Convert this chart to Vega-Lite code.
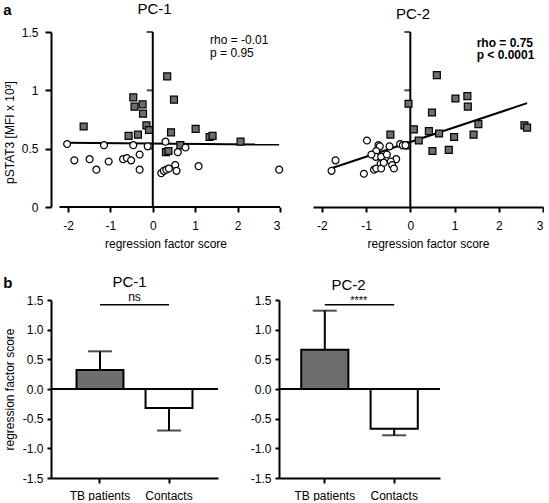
{
  "$schema": "https://vega.github.io/schema/vega-lite/v6.json",
  "padding": {"left": 3, "top": 2, "right": 0, "bottom": 0},
  "datasets": {
    "pc1": [
      {"x": -1.63, "y": 0.69, "group": "TB patients"},
      {"x": -0.46, "y": 0.94, "group": "TB patients"},
      {"x": -0.43, "y": 0.86, "group": "TB patients"},
      {"x": -0.24, "y": 0.88, "group": "TB patients"},
      {"x": -0.23, "y": 0.80, "group": "TB patients"},
      {"x": -0.15, "y": 0.70, "group": "TB patients"},
      {"x": -0.09, "y": 0.66, "group": "TB patients"},
      {"x": -0.57, "y": 0.61, "group": "TB patients"},
      {"x": -0.35, "y": 0.62, "group": "TB patients"},
      {"x": 0.34, "y": 1.12, "group": "TB patients"},
      {"x": 0.50, "y": 0.92, "group": "TB patients"},
      {"x": 0.43, "y": 0.64, "group": "TB patients"},
      {"x": 1.01, "y": 0.67, "group": "TB patients"},
      {"x": 1.34, "y": 0.60, "group": "TB patients"},
      {"x": 1.41, "y": 0.61, "group": "TB patients"},
      {"x": 2.07, "y": 0.56, "group": "TB patients"},
      {"x": 0.31, "y": 0.47, "group": "TB patients"},
      {"x": 0.37, "y": 0.48, "group": "TB patients"},
      {"x": 0.65, "y": 0.53, "group": "TB patients"},
      {"x": -2.02, "y": 0.54, "group": "Contacts"},
      {"x": -1.85, "y": 0.40, "group": "Contacts"},
      {"x": -1.49, "y": 0.41, "group": "Contacts"},
      {"x": -1.33, "y": 0.32, "group": "Contacts"},
      {"x": -1.15, "y": 0.53, "group": "Contacts"},
      {"x": -1.04, "y": 0.39, "group": "Contacts"},
      {"x": -0.70, "y": 0.41, "group": "Contacts"},
      {"x": -0.61, "y": 0.42, "group": "Contacts"},
      {"x": -0.51, "y": 0.40, "group": "Contacts"},
      {"x": -0.46, "y": 0.53, "group": "Contacts"},
      {"x": -0.31, "y": 0.45, "group": "Contacts"},
      {"x": -0.31, "y": 0.32, "group": "Contacts"},
      {"x": -0.12, "y": 0.52, "group": "Contacts"},
      {"x": 0.30, "y": 0.56, "group": "Contacts"},
      {"x": 0.20, "y": 0.29, "group": "Contacts"},
      {"x": 0.26, "y": 0.31, "group": "Contacts"},
      {"x": 0.32, "y": 0.32, "group": "Contacts"},
      {"x": 0.38, "y": 0.33, "group": "Contacts"},
      {"x": 0.53, "y": 0.36, "group": "Contacts"},
      {"x": 0.56, "y": 0.31, "group": "Contacts"},
      {"x": 0.59, "y": 0.47, "group": "Contacts"},
      {"x": 0.77, "y": 0.51, "group": "Contacts"},
      {"x": 1.08, "y": 0.35, "group": "Contacts"},
      {"x": 2.98, "y": 0.32, "group": "Contacts"}
    ],
    "pc2": [
      {"x": 0.60, "y": 1.13, "group": "TB patients"},
      {"x": -0.04, "y": 0.885, "group": "TB patients"},
      {"x": 1.02, "y": 0.93, "group": "TB patients"},
      {"x": 1.29, "y": 0.95, "group": "TB patients"},
      {"x": 1.30, "y": 0.86, "group": "TB patients"},
      {"x": 0.49, "y": 0.81, "group": "TB patients"},
      {"x": 0.08, "y": 0.665, "group": "TB patients"},
      {"x": 0.42, "y": 0.65, "group": "TB patients"},
      {"x": 0.65, "y": 0.63, "group": "TB patients"},
      {"x": 1.54, "y": 0.71, "group": "TB patients"},
      {"x": 1.43, "y": 0.62, "group": "TB patients"},
      {"x": 0.99, "y": 0.60, "group": "TB patients"},
      {"x": 0.19, "y": 0.57, "group": "TB patients"},
      {"x": -0.45, "y": 0.62, "group": "TB patients"},
      {"x": 0.50, "y": 0.48, "group": "TB patients"},
      {"x": 0.87, "y": 0.49, "group": "TB patients"},
      {"x": 2.58, "y": 0.70, "group": "TB patients"},
      {"x": 2.64, "y": 0.68, "group": "TB patients"},
      {"x": -0.13, "y": 0.53, "group": "TB patients"},
      {"x": -0.98, "y": 0.57, "group": "Contacts"},
      {"x": -1.69, "y": 0.40, "group": "Contacts"},
      {"x": -1.78, "y": 0.31, "group": "Contacts"},
      {"x": -1.05, "y": 0.285, "group": "Contacts"},
      {"x": -0.82, "y": 0.32, "group": "Contacts"},
      {"x": -0.77, "y": 0.33, "group": "Contacts"},
      {"x": -0.72, "y": 0.53, "group": "Contacts"},
      {"x": -0.69, "y": 0.52, "group": "Contacts"},
      {"x": -0.77, "y": 0.48, "group": "Contacts"},
      {"x": -0.78, "y": 0.43, "group": "Contacts"},
      {"x": -0.66, "y": 0.43, "group": "Contacts"},
      {"x": -0.67, "y": 0.37, "group": "Contacts"},
      {"x": -0.47, "y": 0.52, "group": "Contacts"},
      {"x": -0.53, "y": 0.45, "group": "Contacts"},
      {"x": -0.32, "y": 0.41, "group": "Contacts"},
      {"x": -0.44, "y": 0.39, "group": "Contacts"},
      {"x": -0.41, "y": 0.36, "group": "Contacts"},
      {"x": -0.37, "y": 0.33, "group": "Contacts"},
      {"x": -0.23, "y": 0.54, "group": "Contacts"},
      {"x": -0.17, "y": 0.53, "group": "Contacts"},
      {"x": -0.11, "y": 0.53, "group": "Contacts"},
      {"x": -0.66, "y": 0.33, "group": "Contacts"},
      {"x": -0.60, "y": 0.38, "group": "Contacts"},
      {"x": -0.88, "y": 0.45, "group": "Contacts"}
    ],
    "fit1": [{"x": -2.02, "y": 0.55}, {"x": 2.98, "y": 0.535}],
    "fit2": [{"x": -1.80, "y": 0.33}, {"x": 2.64, "y": 0.89}],
    "zeroTicks": [{"y": 0.5}, {"y": 1}, {"y": 1.5}],
    "bars": [
      {"pc": "PC-1", "group": "TB patients", "mean": 0.32, "bound": 0.635},
      {"pc": "PC-1", "group": "Contacts", "mean": -0.32, "bound": -0.70},
      {"pc": "PC-2", "group": "TB patients", "mean": 0.66, "bound": 1.32},
      {"pc": "PC-2", "group": "Contacts", "mean": -0.67, "bound": -0.78}
    ],
    "sig": [
      {"pc": "PC-1", "group": "TB patients", "y": 1.42},
      {"pc": "PC-1", "group": "Contacts", "y": 1.42},
      {"pc": "PC-2", "group": "TB patients", "y": 1.42},
      {"pc": "PC-2", "group": "Contacts", "y": 1.42}
    ],
    "sigLabel": [
      {"pc": "PC-1", "group": "TB patients", "y": 1.42, "label": "ns"},
      {"pc": "PC-2", "group": "TB patients", "y": 1.42, "label": "****"}
    ]
  },
  "vconcat": [
    {
      "title": {"text": "a", "anchor": "start", "frame": "bounds", "fontWeight": "bold", "fontSize": 15, "offset": -16},
      "spacing": 27,
      "hconcat": [
        {
          "width": 229, "height": 175,
          "title": {"text": "PC-1", "dx": -11, "offset": 9},
          "layer": [
            {
              "data": {"name": "fit1"},
              "mark": {"type": "line", "color": "black", "strokeWidth": 2},
              "encoding": {
                "x": {"field": "x", "type": "quantitative", "scale": {"domain": [-2.4, 3], "nice": false, "zero": false},
                  "axis": {"values": [-2, -1, 0, 1, 2, 3], "tickCount": 10, "labelExpr": "toString(datum.value)", "title": "regression factor score", "domain": false, "tickSize": 5, "labelPadding": 8, "titlePadding": 7}},
                "y": {"field": "y", "type": "quantitative", "scale": {"domain": [0, 1.5], "nice": false},
                  "axis": {"values": [0, 0.5, 1, 1.5], "tickCount": 10, "labelExpr": "toString(datum.value)", "title": "pSTAT3 [MFI x 10³]", "titleY": 100, "tickSize": 6, "labelPadding": 7, "titlePadding": 5, "labelOverlap": false}}
              }
            },
            {
              "data": {"values": [{}]},
              "mark": {"type": "rule", "color": "black", "strokeWidth": 2},
              "encoding": {"x": {"datum": -2.2}, "x2": {"datum": 3}, "y": {"datum": 0}}
            },
            {
              "data": {"values": [{}]},
              "mark": {"type": "rule", "color": "black", "strokeWidth": 2},
              "encoding": {"x": {"datum": 0}, "y": {"datum": 0}, "y2": {"datum": 1.5}}
            },
            {
              "data": {"name": "zeroTicks"},
              "mark": {"type": "tick", "orient": "horizontal", "size": 6, "thickness": 2, "color": "black", "xOffset": -3},
              "encoding": {"x": {"datum": 0}, "y": {"field": "y", "type": "quantitative"}}
            },
            {
              "data": {"name": "pc1"},
              "mark": {"type": "point", "filled": true, "stroke": "black", "strokeWidth": 1.2, "size": 48, "opacity": 1},
              "encoding": {
                "x": {"field": "x", "type": "quantitative"},
                "y": {"field": "y", "type": "quantitative"},
                "shape": {"field": "group", "type": "nominal", "scale": {"domain": ["TB patients", "Contacts"], "range": ["square", "circle"]}, "legend": null},
                "fill": {"field": "group", "type": "nominal", "scale": {"domain": ["TB patients", "Contacts"], "range": ["#6e6e6e", "white"]}, "legend": null}
              }
            },
            {
              "data": {"values": [{}]},
              "mark": {"type": "text", "align": "left", "baseline": "middle", "fontSize": 12, "font": "Liberation Sans"},
              "encoding": {"x": {"datum": 1.35}, "y": {"datum": 1.43}, "text": {"value": "rho = -0.01"}}
            },
            {
              "data": {"values": [{}]},
              "mark": {"type": "text", "align": "left", "baseline": "middle", "fontSize": 12, "font": "Liberation Sans"},
              "encoding": {"x": {"datum": 1.35}, "y": {"datum": 1.32}, "text": {"value": "p = 0.95"}}
            }
          ]
        },
        {
          "width": 230, "height": 175,
          "title": {"text": "PC-2", "dx": -15, "offset": 9},
          "layer": [
            {
              "data": {"name": "fit2"},
              "mark": {"type": "line", "color": "black", "strokeWidth": 2},
              "encoding": {
                "x": {"field": "x", "type": "quantitative", "scale": {"domain": [-2.2, 3], "nice": false, "zero": false},
                  "axis": {"values": [-2, -1, 0, 1, 2, 3], "tickCount": 10, "labelExpr": "toString(datum.value)", "title": "regression factor score", "tickSize": 5, "labelPadding": 8, "titlePadding": 7}},
                "y": {"field": "y", "type": "quantitative", "scale": {"domain": [0, 1.5], "nice": false}, "axis": null}
              }
            },
            {
              "data": {"values": [{}]},
              "mark": {"type": "rule", "color": "black", "strokeWidth": 2},
              "encoding": {"x": {"datum": 0}, "y": {"datum": 0}, "y2": {"datum": 1.5}}
            },
            {
              "data": {"name": "zeroTicks"},
              "mark": {"type": "tick", "orient": "horizontal", "size": 6, "thickness": 2, "color": "black", "xOffset": -3},
              "encoding": {"x": {"datum": 0}, "y": {"field": "y", "type": "quantitative"}}
            },
            {
              "data": {"name": "pc2"},
              "mark": {"type": "point", "filled": true, "stroke": "black", "strokeWidth": 1.2, "size": 48, "opacity": 1},
              "encoding": {
                "x": {"field": "x", "type": "quantitative"},
                "y": {"field": "y", "type": "quantitative"},
                "shape": {"field": "group", "type": "nominal", "scale": {"domain": ["TB patients", "Contacts"], "range": ["square", "circle"]}, "legend": null},
                "fill": {"field": "group", "type": "nominal", "scale": {"domain": ["TB patients", "Contacts"], "range": ["#6e6e6e", "white"]}, "legend": null}
              }
            },
            {
              "data": {"values": [{}]},
              "mark": {"type": "text", "align": "left", "baseline": "middle", "fontSize": 12, "fontWeight": "bold", "font": "Liberation Sans"},
              "encoding": {"x": {"datum": 1.5}, "y": {"datum": 1.41}, "text": {"value": "rho = 0.75"}}
            },
            {
              "data": {"values": [{}]},
              "mark": {"type": "text", "align": "left", "baseline": "middle", "fontSize": 12, "fontWeight": "bold", "font": "Liberation Sans"},
              "encoding": {"x": {"datum": 1.5}, "y": {"datum": 1.3}, "text": {"value": "p < 0.0001"}}
            }
          ]
        }
      ]
    },
    {
      "title": {"text": "b", "anchor": "start", "frame": "bounds", "fontWeight": "bold", "fontSize": 15, "offset": -16},
      "spacing": 31,
      "hconcat": [
        {
          "width": 167, "height": 178,
          "title": {"text": "PC-1", "dx": -5, "offset": 1},
          "layer": [
            {
              "data": {"name": "bars"},
              "transform": [{"filter": "datum.pc === 'PC-1'"}],
              "mark": {"type": "rule", "color": "black", "strokeWidth": 2},
              "encoding": {
                "x": {"field": "group", "type": "nominal", "sort": ["TB patients", "Contacts"], "scale": {"domain": ["TB patients", "Contacts"], "paddingInner": 0.32, "paddingOuter": 0.37},
                  "axis": {"title": null, "labelAngle": 0, "tickSize": 5, "labelPadding": 7, "bandPosition": 0.5}},
                "y": {"field": "mean", "type": "quantitative", "scale": {"domain": [-1.5, 1.5], "nice": false},
                  "axis": {"values": [-1.5, -1, -0.5, 0, 0.5, 1, 1.5], "tickCount": 20, "labelExpr": "datum.value % 1 === 0 ? toString(datum.value) + '.0' : toString(datum.value)", "title": "regression factor score", "tickSize": 4, "labelPadding": 4, "titlePadding": 6, "labelOverlap": false}},
                "y2": {"field": "bound"}
              }
            },
            {
              "data": {"name": "bars"},
              "transform": [{"filter": "datum.pc === 'PC-1'"}],
              "mark": {"type": "tick", "orient": "horizontal", "size": 24, "thickness": 2, "color": "black"},
              "encoding": {"x": {"field": "group", "type": "nominal"}, "y": {"field": "bound", "type": "quantitative"}}
            },
            {
              "data": {"name": "bars"},
              "transform": [{"filter": "datum.pc === 'PC-1'"}],
              "mark": {"type": "bar", "stroke": "black", "strokeWidth": 2},
              "encoding": {
                "x": {"field": "group", "type": "nominal"},
                "y": {"field": "mean", "type": "quantitative"},
                "fill": {"field": "group", "type": "nominal", "scale": {"domain": ["TB patients", "Contacts"], "range": ["#6e6e6e", "white"]}, "legend": null}
              }
            },
            {
              "data": {"values": [{}]},
              "mark": {"type": "rule", "color": "black", "strokeWidth": 2},
              "encoding": {"y": {"datum": 0}}
            },
            {
              "data": {"name": "sig"},
              "transform": [{"filter": "datum.pc === 'PC-1'"}],
              "mark": {"type": "line", "color": "black", "strokeWidth": 1.5},
              "encoding": {"x": {"field": "group", "type": "nominal"}, "y": {"field": "y", "type": "quantitative"}}
            },
            {
              "data": {"name": "sigLabel"},
              "transform": [{"filter": "datum.pc === 'PC-1'"}],
              "mark": {"type": "text", "baseline": "bottom", "dx": 34.5, "dy": -1, "fontSize": 12, "font": "Liberation Sans"},
              "encoding": {"x": {"field": "group", "type": "nominal"}, "y": {"field": "y", "type": "quantitative"}, "text": {"field": "label"}}
            }
          ]
        },
        {
          "width": 161, "height": 178,
          "title": {"text": "PC-2", "dx": -11, "offset": 1},
          "layer": [
            {
              "data": {"name": "bars"},
              "transform": [{"filter": "datum.pc === 'PC-2'"}],
              "mark": {"type": "rule", "color": "black", "strokeWidth": 2},
              "encoding": {
                "x": {"field": "group", "type": "nominal", "sort": ["TB patients", "Contacts"], "scale": {"domain": ["TB patients", "Contacts"], "paddingInner": 0.32, "paddingOuter": 0.32},
                  "axis": {"title": null, "labelAngle": 0, "tickSize": 5, "labelPadding": 7, "bandPosition": 0.5}},
                "y": {"field": "mean", "type": "quantitative", "scale": {"domain": [-1.5, 1.5], "nice": false},
                  "axis": {"values": [-1.5, -1, -0.5, 0, 0.5, 1, 1.5], "tickCount": 20, "labelExpr": "datum.value % 1 === 0 ? toString(datum.value) + '.0' : toString(datum.value)", "title": null, "tickSize": 4, "labelPadding": 4, "labelOverlap": false}},
                "y2": {"field": "bound"}
              }
            },
            {
              "data": {"name": "bars"},
              "transform": [{"filter": "datum.pc === 'PC-2'"}],
              "mark": {"type": "tick", "orient": "horizontal", "size": 24, "thickness": 2, "color": "black"},
              "encoding": {"x": {"field": "group", "type": "nominal"}, "y": {"field": "bound", "type": "quantitative"}}
            },
            {
              "data": {"name": "bars"},
              "transform": [{"filter": "datum.pc === 'PC-2'"}],
              "mark": {"type": "bar", "stroke": "black", "strokeWidth": 2},
              "encoding": {
                "x": {"field": "group", "type": "nominal"},
                "y": {"field": "mean", "type": "quantitative"},
                "fill": {"field": "group", "type": "nominal", "scale": {"domain": ["TB patients", "Contacts"], "range": ["#6e6e6e", "white"]}, "legend": null}
              }
            },
            {
              "data": {"values": [{}]},
              "mark": {"type": "rule", "color": "black", "strokeWidth": 2},
              "encoding": {"y": {"datum": 0}}
            },
            {
              "data": {"name": "sig"},
              "transform": [{"filter": "datum.pc === 'PC-2'"}],
              "mark": {"type": "line", "color": "black", "strokeWidth": 1.5},
              "encoding": {"x": {"field": "group", "type": "nominal"}, "y": {"field": "y", "type": "quantitative"}}
            },
            {
              "data": {"name": "sigLabel"},
              "transform": [{"filter": "datum.pc === 'PC-2'"}],
              "mark": {"type": "text", "baseline": "bottom", "dx": 34, "dy": 1, "fontSize": 11, "font": "Liberation Sans"},
              "encoding": {"x": {"field": "group", "type": "nominal"}, "y": {"field": "y", "type": "quantitative"}, "text": {"field": "label"}}
            }
          ]
        }
      ]
    }
  ],
  "spacing": 25,
  "config": {
    "view": {"stroke": null},
    "axis": {
      "grid": false,
      "domainColor": "black", "domainWidth": 2,
      "tickColor": "black", "tickWidth": 2,
      "labelColor": "black", "titleColor": "black",
      "labelFont": "Liberation Sans", "titleFont": "Liberation Sans",
      "labelFontSize": 12, "titleFontSize": 12, "titleFontWeight": "normal"
    },
    "title": {"font": "Liberation Sans", "fontSize": 15, "fontWeight": "normal", "color": "black"},
    "text": {"color": "black"}
  }
}
